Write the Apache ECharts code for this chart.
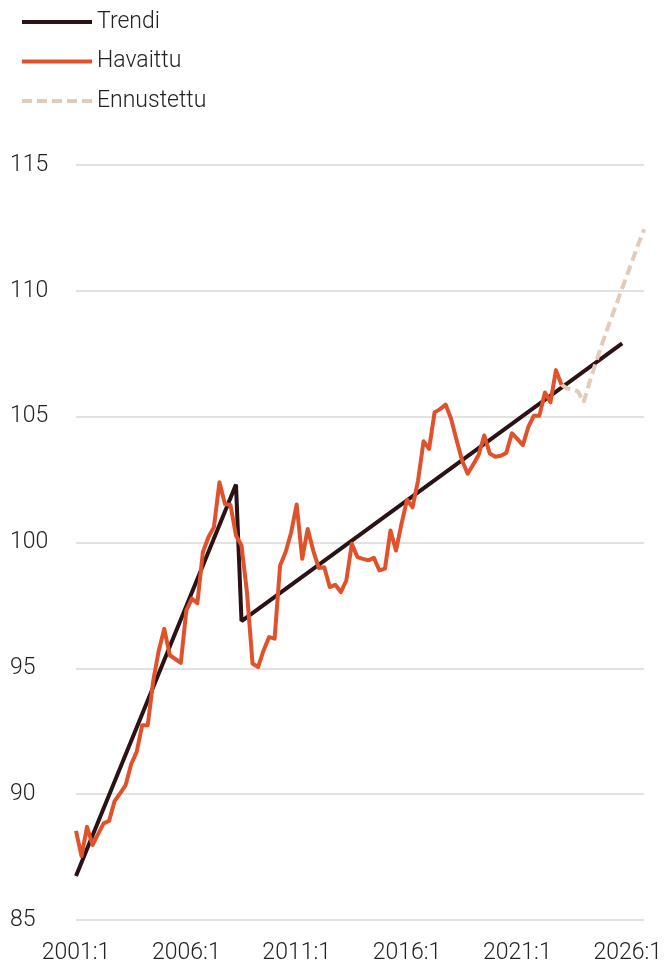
<!DOCTYPE html>
<html lang="fi">
<head>
  <meta charset="UTF-8">
  <script src="https://cdn.jsdelivr.net/npm/echarts@6/dist/echarts.min.js"></script>
  <title>Trendi</title>
</head>
<body>
  <div id="chart"></div>
</body>
<style>
  html,body{
    padding: 0;
    margin: 0;
    width: 665px;
    height: 969px;
    background: #fff;
  }
  #chart {
    width: 665px;
    height: 969px;
  }
</style>
</html>
<script>
// quarters 2001:1 ... 2026:4
const firstYear = 2001
const lastYear = 2026
const categories = []
for (let y = firstYear; y <= lastYear; y++) {
  for (let q = 1; q <= 4; q++) categories.push(y + ':' + q)
}

const yTicks = [85, 90, 95, 100, 105, 110, 115]

// trend is straight between these points
const trendPoints = [
  ['2001:1', 86.75],
  ['2008:2', 102.3],
  ['2008:3', 96.88],
  ['2025:4', 107.91]
]

// observed, from 2001:1
const observed = [
  88.54, 87.54, 88.70, 87.98, 88.41, 88.84, 88.94, 89.73, 90.03, 90.36,
  91.19, 91.68, 92.74, 92.74, 94.5, 95.7, 96.57, 95.52, 95.37, 95.22,
  97.3, 97.77, 97.59, 99.62, 100.21, 100.61, 102.39, 101.53, 101.49, 100.28,
  99.88, 98.0, 95.19, 95.05, 95.71, 96.24, 96.18, 99.09, 99.62, 100.4,
  101.51, 99.35, 100.54, 99.68, 98.99, 99.02, 98.23, 98.32, 98.03, 98.49,
  99.95, 99.42, 99.35, 99.29, 99.39, 98.89, 98.96, 100.48, 99.68, 100.74,
  101.7, 101.40, 102.46, 104.02, 103.72, 105.17, 105.3, 105.48, 104.91, 104.05,
  103.25, 102.73, 103.10, 103.49, 104.25, 103.54, 103.41, 103.45, 103.56, 104.34,
  104.12, 103.87, 104.6, 105.04, 105.04, 105.96, 105.57, 106.85, 106.27
]

// forecast, from 2023:1
const forecastStart = '2023:1'
const forecast = [
  106.27, 106.12, 106.08, 106.0, 105.57, 106.3, 107.0, 107.65,
  108.3, 108.9, 109.5, 110.1, 110.7, 111.3, 111.9, 112.45
]

const startIdx = categories.indexOf(forecastStart)
const forecastData = forecast.map((v, k) => [categories[startIdx + k], v])

const textColor = '#222'
const font = 'Roboto, "Noto Sans", sans-serif'

const option = {
  animation: false,
  backgroundColor: '#fff',
  legend: {
    orient: 'vertical',
    left: 15,
    top: 4,
    itemWidth: 70,
    itemHeight: 14,
    itemGap: 13.5,
    // hide the marker in the middle of the line icon
    itemStyle: { opacity: 0 },
    lineStyle: { width: 4 },
    textStyle: {
      fontFamily: font,
      fontSize: 23,
      fontWeight: 300,
      color: textColor,
      lineHeight: 26
    },
    data: ['Trendi', 'Havaittu', 'Ennustettu']
  },
  grid: {
    left: 76,
    right: 19,
    top: 165,
    bottom: 49
  },
  xAxis: {
    type: 'category',
    data: categories,
    boundaryGap: false,
    axisLine: { show: false },
    axisTick: { show: false },
    splitLine: { show: false },
    axisLabel: {
      interval: 19,
      margin: 22,
      fontFamily: font,
      fontSize: 23,
      fontWeight: 300,
      color: textColor
    }
  },
  yAxis: {
    type: 'value',
    min: yTicks[0],
    max: yTicks[yTicks.length - 1],
    interval: 5,
    axisLine: { show: false },
    axisTick: { show: false },
    splitLine: {
      lineStyle: { color: '#d9d9d9', width: 1.5 }
    },
    axisLabel: {
      align: 'left',
      margin: 66,
      fontFamily: font,
      fontSize: 23,
      fontWeight: 300,
      color: textColor
    }
  },
  series: [
    {
      name: 'Trendi',
      type: 'line',
      symbol: 'none',
      data: trendPoints,
      lineStyle: { color: '#2a1215', width: 4 },
      itemStyle: { color: '#2a1215' },
      z: 2
    },
    {
      name: 'Ennustettu',
      type: 'line',
      symbol: 'none',
      data: forecastData,
      lineStyle: { color: '#e2cbb8', width: 4, type: [10, 5] },
      itemStyle: { color: '#e2cbb8' },
      z: 3
    },
    {
      name: 'Havaittu',
      type: 'line',
      symbol: 'none',
      data: observed,
      lineStyle: { color: '#e0522b', width: 4, join: 'round' },
      itemStyle: { color: '#e0522b' },
      z: 4
    }
  ]
}

const chartDom = document.getElementById('chart')
const myChart = echarts.init(chartDom)
myChart.setOption(option)
</script>
